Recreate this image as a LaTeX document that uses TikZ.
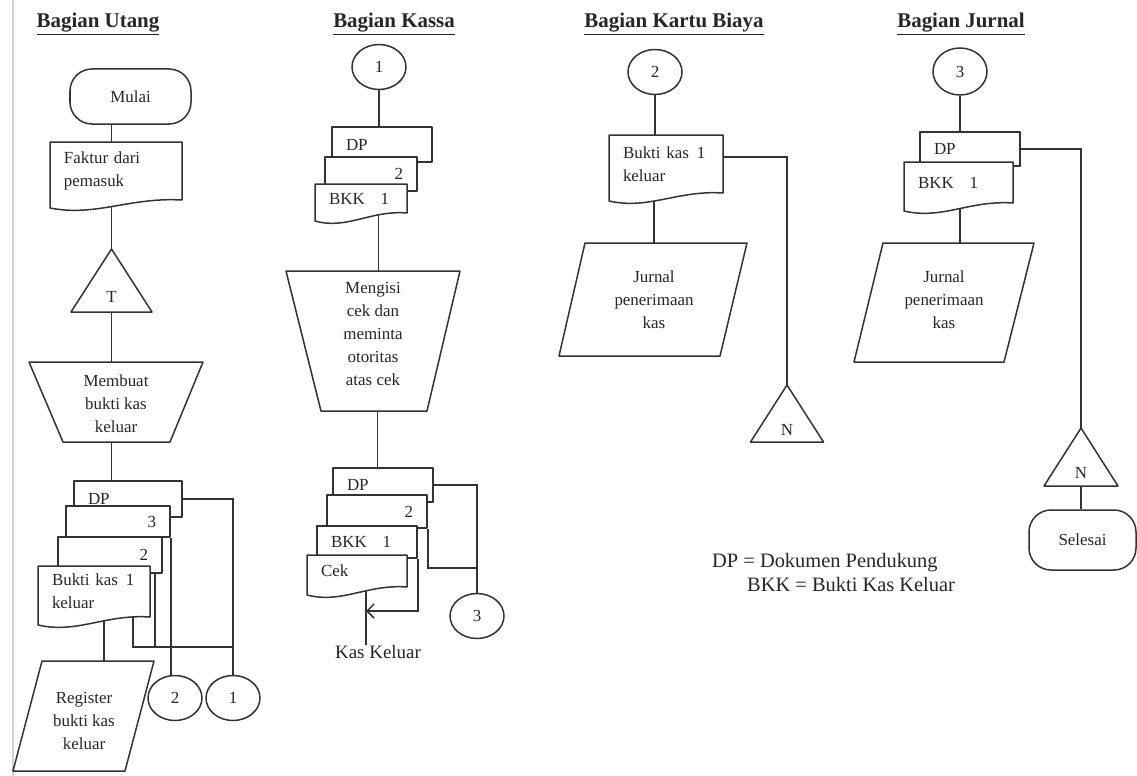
\documentclass[tikz,border=0pt]{standalone}
\usepackage{fontspec}
\setmainfont{Liberation Serif}
\usetikzlibrary{shapes.geometric,arrows.meta,backgrounds,calc}
\newcommand\mydocshape[4]{%
 \draw[shp] (#1,#4+8) -- (#1,#2) -- (#3,#2) -- (#3,#4) .. controls ({#3-0.4*(#3-#1)},#4-3) and ({#1+0.35*(#3-#1)},#4+17) .. (#1,#4+8) -- cycle;}
\newcommand\mydocnode[6]{%
 \mydocshape{#2}{#3}{#4}{#5}%
 \pgfmathsetmacro\mydw{#4-#2}\pgfmathsetmacro\mydh{#5-#3}\pgfmathsetmacro\mytw{#4-#2-28}%
 \node[docbox, minimum width=\mydw bp, minimum height=\mydh bp, text width=\mytw bp] (#1) at ({(#2+#4)/2},{(#3+#5)/2}) {#6};}
\newcommand\mybacknode[6]{%
 \pgfmathsetmacro\mydw{#4-#2}\pgfmathsetmacro\mydh{#5-#3}\pgfmathsetmacro\mytw{#4-#2-28}%
 \node[backdoc, minimum width=\mydw bp, minimum height=\mydh bp, text width=\mytw bp] (#1) at ({(#2+#4)/2},{(#3+#5)/2}) {#6};}
\newcommand\mytri[4]{%
 \draw[shp] (#1,#2) -- (#1+#3,#4) -- (#1-#3,#4) -- cycle;}
\begin{document}
\begin{tikzpicture}[x=1bp,y=-1bp, line join=round,
 every node/.style={font=\fontsize{17}{23}\selectfont, text=black!85},
 ln/.style={draw=black!80, line width=1.5bp},
 shp/.style={draw=black!80, line width=1.5bp, fill=white},
 term/.style={shp, rounded corners=22bp, minimum width=121bp, minimum height=55bp, inner sep=0pt},
 conn/.style={shp, ellipse, minimum width=54bp, minimum height=45bp, inner sep=0pt},
 backdoc/.style={shp, rectangle, inner xsep=14bp, inner ysep=0pt, align=left},
 docbox/.style={rectangle, inner xsep=14bp, inner ysep=0pt, align=left},
 lbl/.style={inner sep=0pt, align=center},
 ttl/.style={font=\fontsize{21}{25}\selectfont\bfseries, inner sep=0pt, anchor=base},
 lgd/.style={font=\fontsize{20.5}{24}\selectfont, inner sep=0pt, anchor=west},
]
\useasboundingbox (0,0) rectangle (1137,776);
\draw[gray!35, line width=1.5bp] (13,0) -- (13,776);

% titles
\node[ttl] (t1) at (98,28) {\underline{Bagian Utang}};
\node[ttl] (t2) at (394,28) {\underline{Bagian Kassa}};
\node[ttl] (t3) at (674,28) {\underline{Bagian Kartu Biaya}};
\node[ttl] (t4) at (961,28) {\underline{Bagian Jurnal}};

% ---------- Bagian Utang ----------
\coordinate (sp1) at (111.5,0);
\node[term] (start) at (130.5,96.5) {Mulai};
\mydocnode{faktur}{50}{142}{182}{200}{Faktur dari\\pemasuk}
\mytri{111.5}{249}{40.5}{312}
\node[lbl] (tT) at (111.5,297) {T};
\coordinate (Ttop) at (111.5,249);
\coordinate (Tbot) at (111.5,312);
\draw[shp] (29,362) -- (203,362) -- (170,442) -- (63,442) -- cycle;
\node[lbl] (membuat) at (116,404) {Membuat\\bukti kas\\keluar};
\coordinate (mtop) at (111.5,362);
\coordinate (mbot) at (111.5,442);
\mybacknode{udp}{74}{481}{182}{517}{DP}
\mybacknode{u3}{66}{506}{170}{537}{\hfill 3}
\mybacknode{u2}{58}{537}{162}{573}{\hfill 2}
\mydocnode{ubk}{38}{566}{150}{617}{Bukti kas\hspace{8pt}1\\keluar}
\draw[shp] (42,661) -- (154,661) -- (125,771) -- (13,771) -- cycle;
\node[lbl] (register) at (84,721) {Register\\bukti kas\\keluar};
\coordinate (rtop) at (104,661);
\node[conn] (uc2) at (175,698) {2};
\node[conn] (uc1) at (233,698) {1};
\coordinate (uj) at (133,647);
\coordinate (u2x) at ([xshift=-8bp]u2.south east);

% ---------- Bagian Kassa ----------
\coordinate (sp2) at (378.5,0);
\node[conn] (kc1) at (379,67) {1};
\mybacknode{kdp}{332}{127}{432}{162}{DP}
\mybacknode{k2}{325}{157}{417}{191}{\hfill 2}
\mydocnode{kbkk}{315}{184}{407}{213}{BKK\hspace{16pt}1}
\draw[shp] (286,271) -- (460,271) -- (427,411) -- (321,411) -- cycle;
\node[lbl] (mengisi) at (373,334) {Mengisi\\cek dan\\meminta\\otoritas\\atas cek};
\coordinate (ktop) at (378.5,271);
\coordinate (kbot) at (377.5,411);
\mybacknode{kdp2}{333}{468}{433}{502}{DP}
\mybacknode{k22}{327}{495}{427}{528}{\hfill 2}
\mybacknode{kbkk2}{317}{526}{417}{558}{BKK\hspace{16pt}1}
\mydocnode{cek}{307}{555}{407}{587}{Cek}
\node[conn] (kc3) at (477,616) {3};
\node[font=\fontsize{19}{23}\selectfont, inner sep=0pt] (kas) at (378,652) {Kas Keluar};
\coordinate (kj) at (477,568);
\coordinate (karr) at (366,611);

% ---------- Bagian Kartu Biaya ----------
\node[conn] (kc2) at (655,72) {2};
\mydocnode{kdoc}{609}{135}{723}{193}{Bukti kas\hspace{8pt}1\\keluar}
\draw[shp] (585,243) -- (747,243) -- (720,356) -- (559,356) -- cycle;
\node[lbl] (kjurnal) at (654,300) {Jurnal\\penerimaan\\kas};
\coordinate (kjtop) at (654,243);
\mytri{787}{385}{36.5}{442}
\node[lbl] (kN) at (787,430) {N};
\coordinate (kNtop) at (787,385);

% ---------- Bagian Jurnal ----------
\node[conn, minimum height=47bp] (jc3) at (960,71.5) {3};
\mybacknode{jdp}{920}{132}{1020}{166}{DP}
\mydocnode{jbkk}{904}{162}{1013}{203}{BKK\hspace{16pt}1}
\draw[shp] (883,243) -- (1034,243) -- (1004,362) -- (854,362) -- cycle;
\node[lbl] (jjurnal) at (944,300) {Jurnal\\penerimaan\\kas};
\coordinate (jjtop) at (960,243);
\mytri{1081}{428}{37}{486}
\node[lbl] (jN) at (1081,473) {N};
\coordinate (jNtop) at (1081,428);
\coordinate (jNbot) at (1081,486);
\node[term, minimum width=107bp, minimum height=60bp] (end) at (1082.5,540) {Selesai};

% legend
\node[lgd] (leg1) at (712,563) {DP = Dokumen Pendukung};
\node[lgd] (leg2) at (747,585) {BKK = Bukti Kas Keluar};

% ---------- connectors ----------
\begin{pgfonlayer}{background}
\fill[white] (0,0) rectangle (1137,776);
\draw[ln] (sp1 |- start.south) -- (sp1 |- faktur.north);
\draw[ln] (sp1 |- faktur.south) -- (Ttop);
\draw[ln] (Tbot) -- (mtop);
\draw[ln] (mbot) -- (sp1 |- udp.north);
\draw[ln] (rtop |- ubk.south) -- (rtop);
\draw[ln] (udp.east) -| (uc1.north);
\draw[ln] (u3.south east) -- (u3.south east |- uc2.north);
\draw[ln] (uj |- ubk.south) -- (uj) -- (uj -| uc1.north);
\draw[ln] (u2x) -- (u2x |- uj);

\draw[ln] (kc1.south) -- (kc1.south |- kdp.north);
\draw[ln] (sp2 |- kbkk.south) -- (ktop);
\draw[ln] (kbot) -- (kbot |- kdp2.north);
\draw[ln] (kdp2.east) -| (kc3.north);
\draw[ln] (k22.south east) |- (kj);
\draw[ln, -{Straight Barb[length=7bp,width=14bp]}] (kbkk2.south east) |- (karr);
\draw[ln] (karr |- cek.south) -- (karr |- kas.north);

\draw[ln] (kc2.south) -- (kc2.south |- kdoc.north);
\draw[ln] (kjtop |- kdoc.south) -- (kjtop);
\draw[ln] ([yshift=7bp]kdoc.east) -| (kNtop);

\draw[ln] (jc3.south) -- (jc3.south |- jdp.north);
\draw[ln] (jdp.east) -| (jNtop);
\draw[ln] (jjtop |- jbkk.south) -- (jjtop);
\draw[ln] (jNbot) -- (jNbot |- end.north);
\end{pgfonlayer}
\end{tikzpicture}
\end{document}
